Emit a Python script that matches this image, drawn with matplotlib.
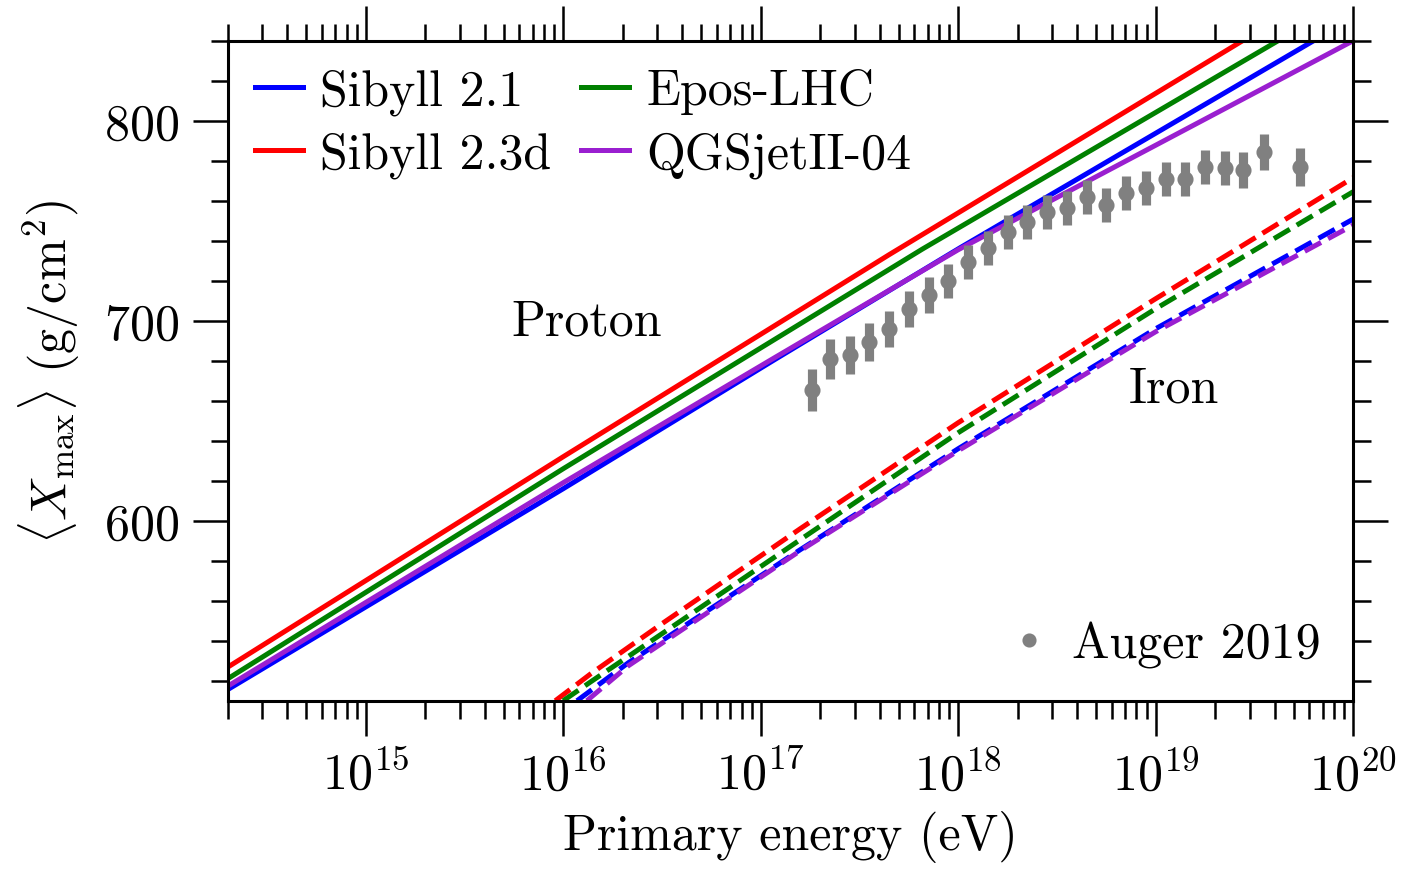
import numpy as np
import matplotlib
matplotlib.use("Agg")
import matplotlib.pyplot as plt
from matplotlib.ticker import LogLocator, MultipleLocator, NullFormatter

plt.rcParams['font.family'] = 'serif'
plt.rcParams['font.serif'] = ['cmr10']
plt.rcParams['mathtext.fontset'] = 'cm'
plt.rcParams['axes.formatter.use_mathtext'] = True
plt.rcParams['font.size'] = 18

# proton curves (log10 E, <Xmax>)
p_sib21_lgE = [14.3, 16.0, 17.07, 18.01, 19.8]
p_sib21_X = [515.5, 616, 680.5, 736.5, 840]
p_sib23_lgE = [14.3, 16.0, 17.65, 19.44]
p_sib23_X = [526.7, 632, 733, 840]
p_epos_lgE = [14.3, 16.0, 17.82, 19.62]
p_epos_X = [520.9, 626, 735.9, 840]
p_qgs_lgE = [14.3, 16.0, 17.07, 18.0, 20.0]
p_qgs_X = [517.2, 619, 681.5, 735.5, 840]

# iron curves
fe_sib21_lgE = [16.07, 16.33, 16.7, 17.2, 18.0, 19.0, 20.0]
fe_sib21_X = [510, 529, 553, 585.5, 636, 696, 750.8]
fe_sib23_lgE = [15.96, 16.14, 16.5, 17.2, 18.0, 19.0, 20.0]
fe_sib23_X = [510, 523.5, 548.5, 596, 649, 711, 771.5]
fe_epos_lgE = [16.0, 16.14, 16.5, 17.2, 18.0, 19.0, 20.0]
fe_epos_X = [510, 519.5, 543.5, 590.5, 644, 706, 764.5]
fe_qgs_lgE = [16.12, 16.33, 16.7, 17.2, 18.0, 19.0, 20.0]
fe_qgs_X = [510, 527.5, 552, 585, 635, 694.5, 747.8]

# Auger 2019
auger_lgE = [17.26, 17.35, 17.45, 17.55, 17.65, 17.75, 17.85, 17.95, 18.05, 18.15,
             18.25, 18.35, 18.45, 18.55, 18.65, 18.75, 18.85, 18.95, 19.05, 19.15,
             19.25, 19.35, 19.44, 19.55, 19.73]
auger_X = [665.5, 681.0, 683.0, 689.5, 695.7, 705.7, 712.7, 720.0, 729.2, 736.5,
           744.2, 749.2, 754.2, 756.2, 761.7, 757.9, 763.9, 766.5, 770.8, 771.0,
           777.0, 776.2, 775.6, 784.5, 777.0]
auger_err = [10.5, 10, 9.5, 9.5, 9, 9, 9, 8.5, 8.5, 8.5,
             8.5, 8.5, 8.5, 8.5, 8.5, 8.5, 8.5, 8.5, 8.5, 8.5,
             8.5, 8.5, 9, 9, 9.5]

models = [
    ("Sibyll 2.1", "blue", p_sib21_lgE, p_sib21_X, fe_sib21_lgE, fe_sib21_X),
    ("Sibyll 2.3d", "red", p_sib23_lgE, p_sib23_X, fe_sib23_lgE, fe_sib23_X),
    ("Epos-LHC", "green", p_epos_lgE, p_epos_X, fe_epos_lgE, fe_epos_X),
    ("QGSjetII-04", "#9a1fd0", p_qgs_lgE, p_qgs_X, fe_qgs_lgE, fe_qgs_X),
]

fig = plt.figure(figsize=(7.035, 4.35), dpi=200)
ax = fig.add_axes([0.1618, 0.1934, 0.7999, 0.7586])

handles = []
for name, col, plg, px, flg, fx in models:
    h, = ax.plot(10**np.array(plg), px, color=col, lw=1.8, label=name)
    ax.plot(10**np.array(flg), fx, color=col, lw=1.8, ls='--')
    handles.append(h)

eb = ax.errorbar(10**np.array(auger_lgE), auger_X, yerr=auger_err, fmt='o',
                 color='gray', ms=4.8, elinewidth=3.3, capsize=0, zorder=5)

ax.text(10**16.12, 699.4, "Proton", ha='center', va='center')
ax.text(10**19.09, 665.9, "Iron", ha='center', va='center')

ax.set_xscale('log')
ax.set_xlim(2e14, 1e20)
ax.set_ylim(510, 840)
ax.xaxis.set_major_locator(LogLocator(base=10, numticks=20))
ax.xaxis.set_minor_locator(LogLocator(base=10, subs=np.arange(2, 10), numticks=20))
ax.xaxis.set_minor_formatter(NullFormatter())
ax.yaxis.set_major_locator(MultipleLocator(100))
ax.yaxis.set_minor_locator(MultipleLocator(20))

ax.tick_params(which='both', direction='out', top=True, right=True, width=0.9)
ax.tick_params(which='major', length=12.5, pad=5)
ax.tick_params(which='minor', length=6.3)
for s in ax.spines.values():
    s.set_linewidth(1.1)

ax.set_xlabel("Primary energy (eV)", labelpad=4)
ax.set_ylabel(r"$\langle X_{\rm max}\rangle\ ({\rm g/cm^2})$", labelpad=8)

leg1 = ax.legend(handles=handles, loc='upper left', ncol=2, frameon=False,
                 handlelength=0.95, handletextpad=0.35, columnspacing=0.6,
                 labelspacing=0.34, borderpad=0.35, borderaxespad=0.2)
ax.add_artist(leg1)
ax.legend([eb[0]], ["Auger 2019"], loc='lower right', frameon=False, markerscale=0.85,
          handlelength=0.7, handletextpad=0.5, borderpad=0.35, borderaxespad=0.3)

fig.savefig("out.png", dpi=200)
